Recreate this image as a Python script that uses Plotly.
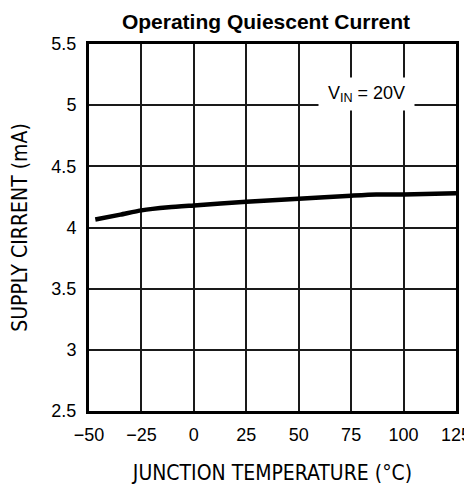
import plotly.graph_objects as go

# junction temperature (°C) and supply current (mA)
temperature = [-47, -35, -25, -12, 0, 25, 50, 75, 87, 100, 125]
supply_current = [4.065, 4.105, 4.14, 4.165, 4.18, 4.21, 4.235, 4.26, 4.27, 4.27, 4.28]

x_ticks = [-50, -25, 0, 25, 50, 75, 100, 125]
y_ticks = [2.5, 3, 3.5, 4, 4.5, 5, 5.5]
y_labels = ["2.5", "3", "3.5", "4", "4.5", "5", "5.5"]

narrow = "Liberation Sans Narrow, DejaVu Sans Condensed, Arial Narrow, sans-serif"
plain = "Liberation Sans, Arial, sans-serif"

fig = go.Figure()
fig.add_trace(go.Scatter(x=temperature, y=supply_current, mode="lines",
                         line=dict(color="black", width=4.5, shape="spline", smoothing=0.6),
                         showlegend=False, hoverinfo="skip"))

# page body adds an 8px offset, so the figure is a bit smaller than the window
fig.update_layout(
    width=464, height=477,
    margin=dict(l=81, r=16, t=36, b=74, autoexpand=False),
    paper_bgcolor="white", plot_bgcolor="white",
    title=dict(text="<b>Operating Quiescent Current</b>", x=258 / 464, xanchor="center",
               y=1 - 14 / 477, yanchor="middle",
               font=dict(family=plain, size=21, color="black")),
    font=dict(family=narrow, color="black"),
)

fig.update_xaxes(range=[-50, 125], tickvals=x_ticks, ticktext=[str(t).replace("-", "\u2212") for t in x_ticks],
                 showgrid=True, gridcolor="#1a1a1a", gridwidth=2,
                 showline=True, linecolor="black", linewidth=3, mirror=True,
                 ticks="", ticklabelstandoff=5, tickfont=dict(size=18, family=plain),
                 zeroline=False, automargin=False,
                 title=dict(text="JUNCTION TEMPERATURE (°C)", standoff=27,
                            font=dict(size=21, family=narrow)))
fig.update_yaxes(range=[2.5, 5.5], tickvals=y_ticks, ticktext=y_labels,
                 showgrid=True, gridcolor="#1a1a1a", gridwidth=2,
                 showline=True, linecolor="black", linewidth=3, mirror=True,
                 ticks="", ticklabelstandoff=6, tickfont=dict(size=18, family=plain),
                 zeroline=False, automargin=False,
                 title=dict(text="SUPPLY CIRRENT (mA)", standoff=20,
                            font=dict(size=21, family=narrow)))

fig.add_annotation(x=82.5, y=5.09, xref="x", yref="y",
                   text="V<sub>IN</sub> = 20V", showarrow=False,
                   bgcolor="white", borderpad=0, width=95, height=32,
                   font=dict(size=18, family=plain, color="black"))

fig.write_html("out.html")
